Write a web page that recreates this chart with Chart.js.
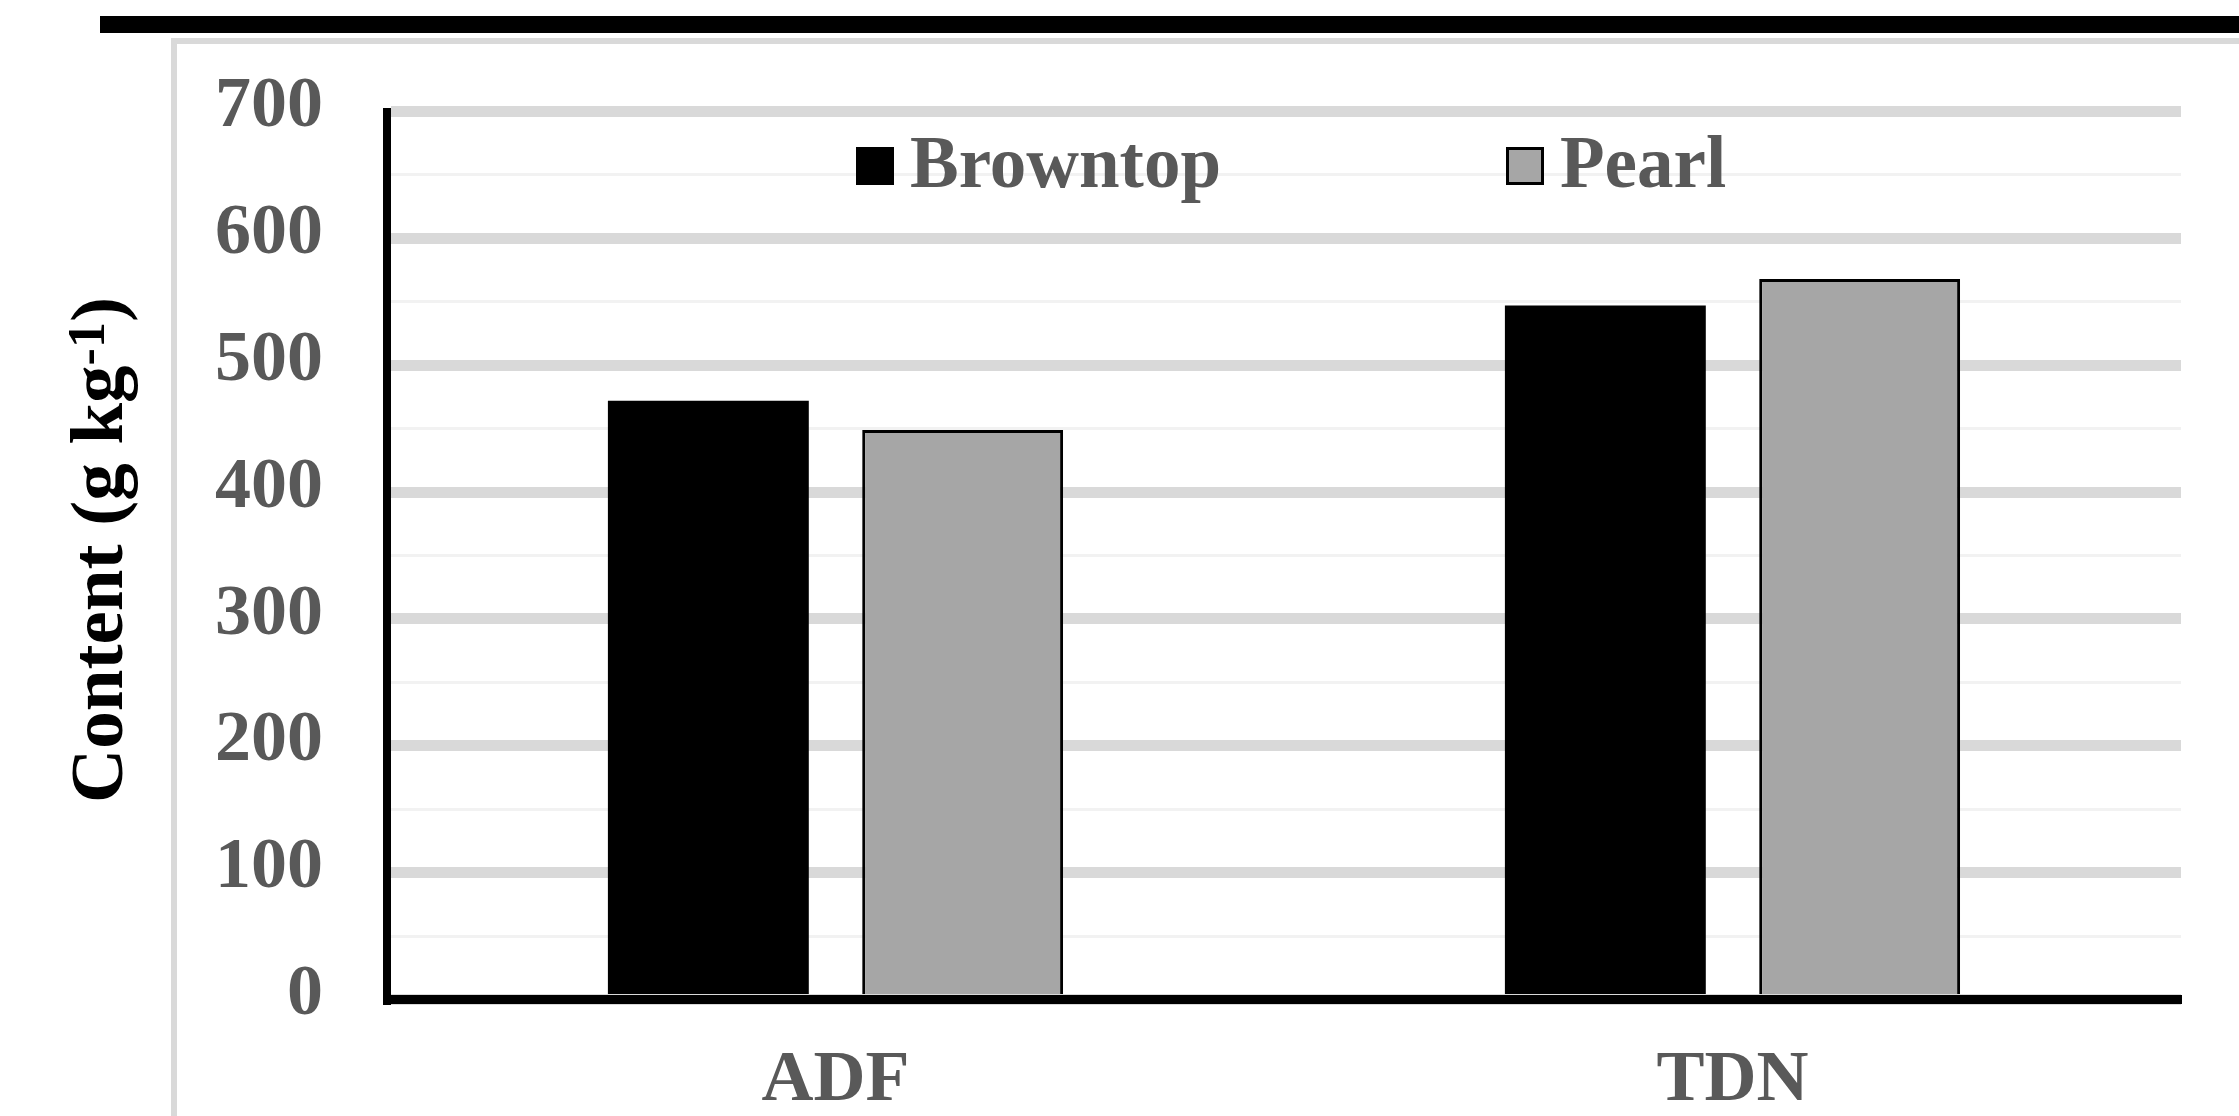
<!DOCTYPE html>
<html>
<head>
<meta charset="utf-8">
<script src="https://cdn.jsdelivr.net/npm/chart.js@4.4.1/dist/chart.umd.min.js"></script>
<style>
  html, body { margin: 0; padding: 0; background: #ffffff; width: 2239px; height: 1116px; overflow: hidden; }
  #topbar { position: absolute; left: 100px; top: 16px; width: 2139px; height: 17px; background: #000; }
  #frame { position: absolute; left: 171px; top: 38px; width: 2200px; height: 1200px; border-left: 6px solid #d9d9d9; border-top: 6px solid #d9d9d9; }
  #c { position: absolute; left: 0; top: 0; }
</style>
</head>
<body>
<div id="topbar"></div>
<div id="frame"></div>
<canvas id="c" width="2239" height="1116"></canvas>
<script>
// ---- data ----
const categories = ['ADF', 'TDN'];
const seriesNames = ['Browntop', 'Pearl'];
const browntopValues = [472, 547];
const pearlValues = [449, 568];
const yMin = 0;
const yMax = 700;
const yMajorStep = 100;
const yMinorStep = 50;
const yTitleMain = 'Content (g kg';
const yTitleSup = '-1';
const yTitleEnd = ')';

const FONT = '"Liberation Serif", "Times New Roman", serif';
const LABEL_COLOR = '#595959';

const legendAndTitle = {
  id: 'legendAndTitle',
  afterDraw(chart) {
    const ctx = chart.ctx;
    ctx.save();
    // legend
    const items = chart.data.datasets.map(d => ({ label: d.label, fill: d.backgroundColor, border: d.borderWidth ? d.borderColor : null, bw: d.borderWidth }));
    const boxX = [856, 1506];
    ctx.font = 'bold 73px ' + FONT;
    ctx.textBaseline = 'alphabetic';
    ctx.textAlign = 'left';
    items.forEach((it, i) => {
      const bx = boxX[i], by = 147, bs = 38;
      ctx.fillStyle = it.fill;
      ctx.fillRect(bx, by, bs, bs);
      if (it.border) {
        ctx.lineWidth = it.bw;
        ctx.strokeStyle = it.border;
        ctx.strokeRect(bx + it.bw / 2, by + it.bw / 2, bs - it.bw, bs - it.bw);
      }
      ctx.fillStyle = LABEL_COLOR;
      ctx.fillText(it.label, bx + bs + 16, 187);
    });
    // y axis title (rotated, with superscript)
    ctx.translate(122, 550);
    ctx.rotate(-Math.PI / 2);
    ctx.fillStyle = '#000000';
    const mainFont = 'bold 75px ' + FONT;
    const supFont = 'bold 52px ' + FONT;
    ctx.font = mainFont;
    const w1 = ctx.measureText(yTitleMain).width;
    const w3 = ctx.measureText(yTitleEnd).width;
    ctx.font = supFont;
    const w2 = ctx.measureText(yTitleSup).width;
    const total = w1 + w2 + w3;
    let x = -total / 2;
    ctx.font = mainFont;
    ctx.fillText(yTitleMain, x, 0);
    x += w1;
    ctx.font = supFont;
    ctx.fillText(yTitleSup, x, -18);
    x += w2;
    ctx.font = mainFont;
    ctx.fillText(yTitleEnd, x, 0);
    ctx.restore();
  }
};

new Chart(document.getElementById('c'), {
  type: 'bar',
  data: {
    labels: categories,
    datasets: [
      { label: seriesNames[0], data: browntopValues, backgroundColor: '#000000', borderWidth: 0 },
      { label: seriesNames[1], data: pearlValues, backgroundColor: '#a6a6a6', borderColor: '#000000', borderWidth: 3 }
    ]
  },
  options: {
    responsive: false,
    devicePixelRatio: 1,
    animation: false,
    layout: { padding: { left: 0, top: 111.5, right: 58, bottom: 0 } },
    plugins: { legend: { display: false }, tooltip: { enabled: false }, title: { display: false } },
    datasets: { bar: { barPercentage: 0.79, categoryPercentage: 0.567, borderSkipped: 'start' } },
    scales: {
      x: {
        afterFit: s => { s.height = 116.5; },
        grid: { display: false, drawTicks: false },
        border: { display: true, color: '#000000', width: 9, z: 1 },
        ticks: { color: LABEL_COLOR, font: { family: FONT, size: 72, weight: 'bold', lineHeight: 1 }, padding: 46 }
      },
      y: {
        min: yMin,
        max: yMax,
        afterFit: s => { s.width = 387; },
        grid: {
          drawTicks: false,
          lineWidth: c => (c.tick && c.tick.value % yMajorStep === 0) ? 11 : 3,
          color: c => (c.tick && c.tick.value % yMajorStep === 0) ? '#d9d9d9' : '#f2f2f2'
        },
        border: { display: true, color: '#000000', width: 8, z: 1 },
        ticks: {
          stepSize: yMinorStep,
          autoSkip: false,
          padding: 64,
          labelOffset: -4,
          color: LABEL_COLOR,
          font: { family: FONT, size: 72, weight: 'bold', lineHeight: 1 },
          callback: v => (v % yMajorStep === 0 ? String(v) : '')
        }
      }
    }
  },
  plugins: [legendAndTitle]
});
</script>
</body>
</html>
